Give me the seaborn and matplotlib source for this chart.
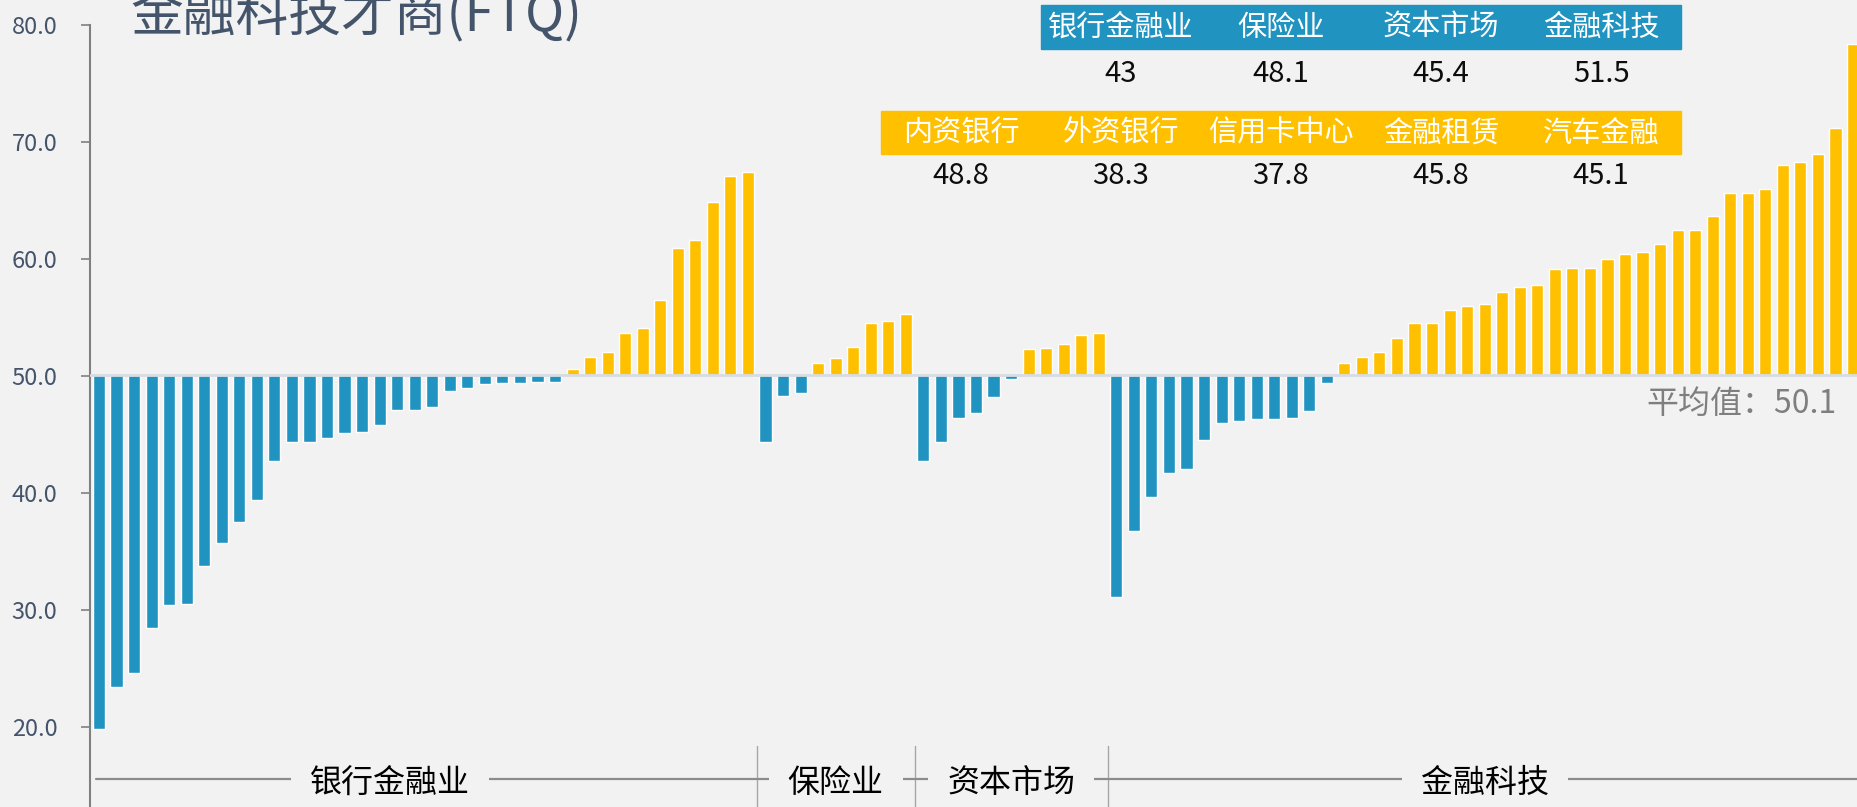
import numpy as np
import pandas as pd
import matplotlib.pyplot as plt
import matplotlib.patches as mpatches
import seaborn as sns

# FTQ scores per company, sorted inside each sector
banking = [19.8, 23.4, 24.6, 28.4, 30.4, 30.5, 33.7, 35.7, 37.5, 39.4,
           42.7, 44.3, 44.3, 44.7, 45.1, 45.2, 45.8, 47.1, 47.1, 47.3,
           48.7, 49.0, 49.3, 49.4, 49.4, 49.5, 49.5,
           50.6, 51.6, 52.0, 53.7, 54.1, 56.5, 60.9, 61.6, 64.9, 67.1, 67.4]
insurance = [44.3, 48.3, 48.5, 51.1, 51.5, 52.5, 54.5, 54.7, 55.3]
capital = [42.7, 44.3, 46.4, 46.8, 48.2, 49.7, 52.3, 52.4, 52.7, 53.5, 53.7]
fintech = [31.1, 36.7, 39.6, 41.7, 42.0, 44.5, 46.0, 46.1, 46.3, 46.3,
           46.4, 47.0, 49.4,
           51.1, 51.6, 52.0, 53.2, 54.5, 54.5, 55.6, 56.0, 56.1, 57.2,
           57.6, 57.8, 59.1, 59.2, 59.2, 60.0, 60.4, 60.6, 61.3, 62.5,
           62.5, 63.7, 65.6, 65.6, 66.0, 68.0, 68.3, 69.0, 71.2, 78.4]

group_names = ['银行金融业', '保险业', '资本市场', '金融科技']
average = 50.1
y_ticks = [20, 30, 40, 50, 60, 70, 80]

# summary tables at the top
sector_scores = [43, 48.1, 45.4, 51.5]
sub_names = ['内资银行', '外资银行', '信用卡中心', '金融租赁', '汽车金融']
sub_scores = [48.8, 38.3, 37.8, 45.8, 45.1]

BG = '#f2f2f2'
BLUE = '#2193c0'
GOLD = '#ffc000'
SLATE = '#44546a'
GRAY = '#808080'

W, H = 1857, 807


def fx(px):
    return px / W


def fy(py):
    # py measured from the top of the picture
    return 1 - py / H


def ay(py):
    # axes fraction for a pixel row, axes spans rows 25..807
    return (H - py) / 782


sns.set_theme(style='white')
plt.rcParams['font.family'] = ['Noto Sans CJK SC', 'DejaVu Sans']

groups = [banking, insurance, capital, fintech]
scores = np.concatenate(groups)
df = pd.DataFrame({
    'idx': np.arange(len(scores)),
    'dev': scores - average,
})
df['side'] = np.where(df['dev'] > 0, 'above', 'below')

fig = plt.figure(figsize=(W / 100, H / 100), dpi=100)
fig.patch.set_facecolor(BG)
ax = fig.add_axes([fx(90.2), 0, fx(1771.6), 782 / H])
ax.set_facecolor(BG)

sns.barplot(data=df, x='idx', y='dev', hue='side',
            palette={'above': GOLD, 'below': BLUE},
            width=0.69, saturation=1, dodge=False, legend=False, ax=ax)

n = len(scores)
ax.set_xlim(-0.5, n - 0.5)
ax.set_ylim(13.13 - average, 80 - average)
ax.set_xticks([])
ax.set_xlabel('')
ax.set_ylabel('')
ax.set_yticks([t - average for t in y_ticks])
ax.set_yticklabels([f'{t:.1f}' for t in y_ticks])
ax.tick_params(axis='y', length=6.5, width=1.2, color=GRAY, pad=17,
               labelsize=17, labelcolor=SLATE, left=True)
sns.despine(ax=ax, top=True, right=True, bottom=True)
ax.spines['left'].set_color(GRAY)
ax.spines['left'].set_linewidth(1.5)

# average line and its label
ax.axhline(0, color='#d6dce4', lw=2, zorder=3)
ax.text(0.986, -2.5, f'平均值：{average}', transform=ax.get_yaxis_transform(),
        ha='right', va='center', fontsize=23, color='#7f7f7f')

# sector brackets along the bottom
xt = ax.get_xaxis_transform()
sizes = [len(g) for g in groups]
starts = np.cumsum([0] + sizes[:-1])
for b in starts[1:]:
    ax.plot([b - 0.5, b - 0.5], [ay(746), 0], transform=xt,
            color='#a6a6a6', lw=1, clip_on=False)
ax.plot([-0.17, n - 0.5], [ay(778.7), ay(778.7)], transform=xt,
        color='#8c8c8c', lw=1.6, zorder=2, clip_on=False)
label_shift = [-1.9, 0, 0, 0]
for name, s, size, shift in zip(group_names, starts, sizes, label_shift):
    ax.text(s + (size - 1) / 2 + shift, ay(783), name, transform=xt,
            ha='center', va='center', fontsize=23, color='black', zorder=4,
            bbox=dict(boxstyle='square,pad=0.6', fc=BG, ec='none'))

# title (partly cut off at the top, as in the original)
fig.text(fx(130), fy(30), '金融科技才商(FTQ)', fontsize=38, color=SLATE,
         ha='left', va='baseline')

# header tables
col_x = [961 + 160 * i for i in range(5)]
fig.add_artist(mpatches.Rectangle((fx(1041), fy(49)), fx(640), 44 / H,
                                  transform=fig.transFigure, color=BLUE))
fig.add_artist(mpatches.Rectangle((fx(881), fy(154)), fx(800), 43 / H,
                                  transform=fig.transFigure, color=GOLD))
for x, name, v in zip(col_x[1:], group_names, sector_scores):
    fig.text(fx(x), fy(28), name, fontsize=21, color='white',
             ha='center', va='center')
    fig.text(fx(x), fy(74), f'{v:g}', fontsize=21, color='#0d0d0d',
             ha='center', va='center')
for x, name, v in zip(col_x, sub_names, sub_scores):
    fig.text(fx(x), fy(134), name, fontsize=21, color='white',
             ha='center', va='center')
    fig.text(fx(x), fy(176), f'{v:g}', fontsize=21, color='#0d0d0d',
             ha='center', va='center')

fig.savefig('out.png', dpi=100, facecolor=BG)
